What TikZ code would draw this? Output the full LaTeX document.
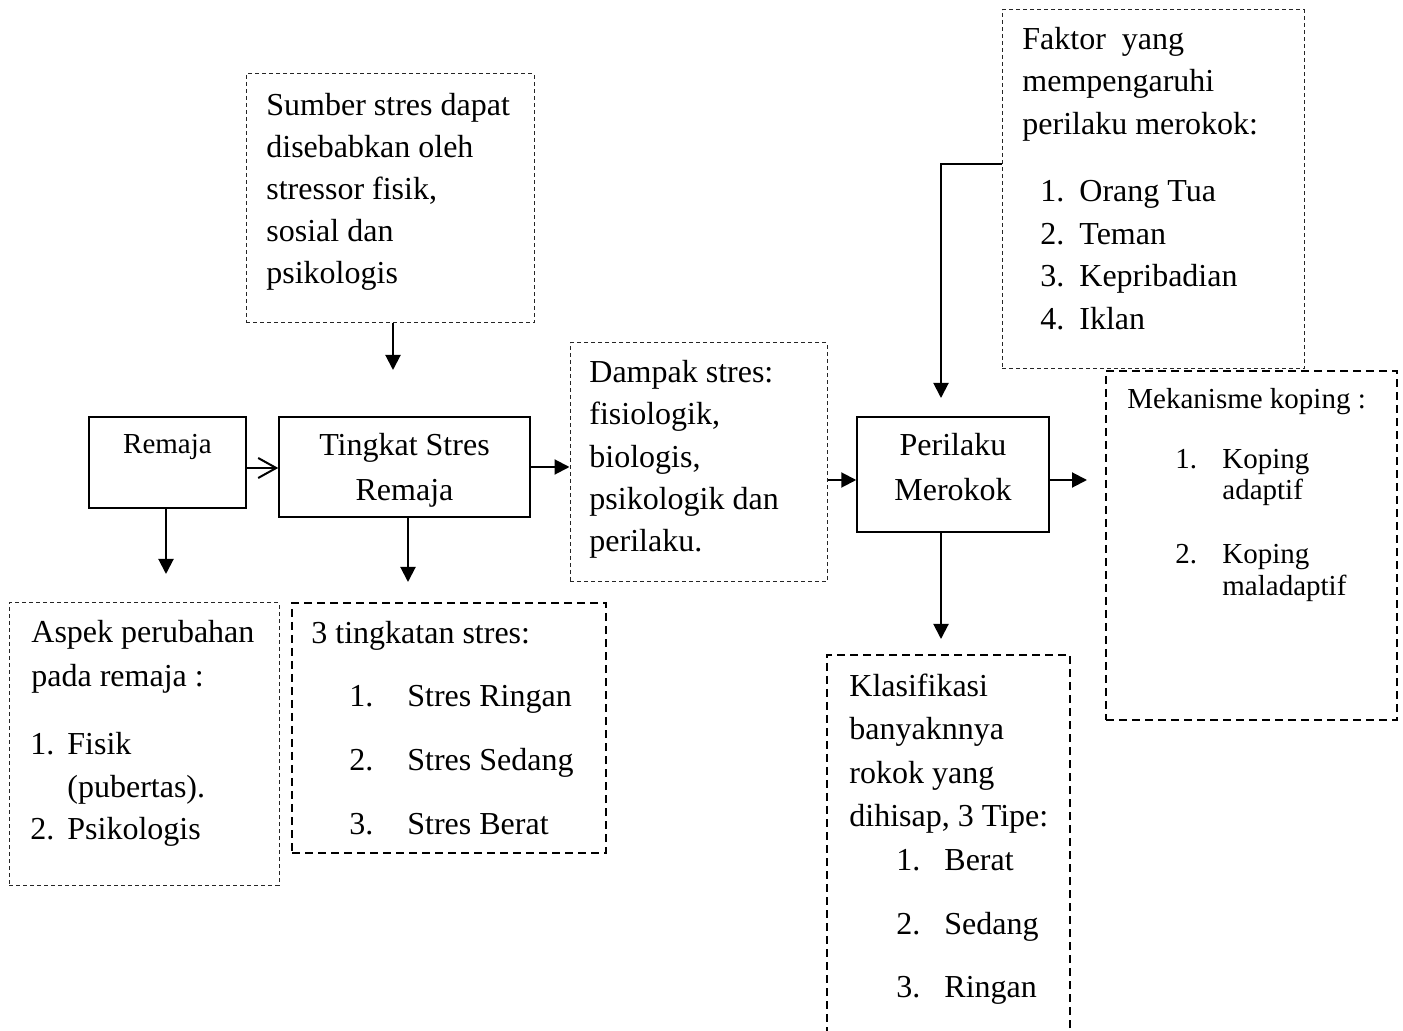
\documentclass[tikz,border=0pt]{standalone}
\usepackage{fontspec}
\setmainfont{Liberation Serif}
\usetikzlibrary{arrows.meta,fit}
\begin{document}
\begin{tikzpicture}[x=0.5pt,y=-0.5pt,
  solidbox/.style={draw, line width=0.75pt, inner sep=0pt},
  finebox/.style={draw, draw=black!85, line width=0.5pt, dash pattern=on 2pt off 1.5pt, inner sep=0pt},
  coarsebox/.style={draw, line width=1pt, dash pattern=on 4pt off 2.5pt, inner sep=0pt},
  arr/.style={line width=1pt, -{Triangle[length=7.5pt,width=7.5pt]}},
  openarr/.style={line width=1pt, -{Straight Barb[length=9pt,width=10pt]}},
  txt/.style={anchor=base west, inner sep=0pt, font=\fontsize{16}{19}\selectfont},
  ctxt/.style={anchor=base, inner sep=0pt, font=\fontsize{16}{19}\selectfont},
  stxt/.style={anchor=base west, inner sep=0pt, font=\fontsize{14.5}{17}\selectfont},
  sctxt/.style={anchor=base, inner sep=0pt, font=\fontsize{14.5}{17}\selectfont},
]
\useasboundingbox (0,0) rectangle (1403,1031);
\clip (0,0) rectangle (1403,1031);

% boxes
\node[solidbox, fit={(89,417)(246,508)}] (remaja) {};
\node[solidbox, fit={(279,417)(530,517)}] (tingkat) {};
\node[solidbox, fit={(857,417)(1049,532)}] (perilaku) {};
\node[finebox, fit={(246,74)(534,323)}] (sumber) {};
\node[finebox, fit={(570,343)(827,582)}] (dampak) {};
\node[finebox, fit={(1002,10)(1304,369)}] (faktor) {};
\node[coarsebox, fit={(1106,371)(1397,720)}] (koping) {};
\node[finebox, fit={(9,603)(279,885)}] (aspek) {};
\node[coarsebox, fit={(292,603)(606,853)}] (tingkatan) {};
\node[coarsebox, fit={(827,655)(1070,1045)}] (klasifikasi) {};

% texts
\node[sctxt] (tRemaja) at (167.5,454) {Remaja};
\node[ctxt] (tT1) at (404.5,456) {Tingkat Stres};
\node[ctxt] (tT2) at (404.5,501) {Remaja};
\node[ctxt] (tP1) at (953,456) {Perilaku};
\node[ctxt] (tP2) at (953,501) {Merokok};

\node[txt] (s1) at (266,116) {Sumber stres dapat};
\node[txt] (s2) at (266,158) {disebabkan oleh};
\node[txt] (s3) at (266,200) {stressor fisik,};
\node[txt] (s4) at (266,242) {sosial dan};
\node[txt] (s5) at (266,284) {psikologis};

\node[txt] (d1) at (589,383) {Dampak stres:};
\node[txt] (d2) at (589,425) {fisiologik,};
\node[txt] (d3) at (589,468) {biologis,};
\node[txt] (d4) at (589,510) {psikologik dan};
\node[txt] (d5) at (589,552) {perilaku.};

\node[txt] (f1) at (1022,50) {Faktor~ yang};
\node[txt] (f2) at (1022,92) {mempengaruhi};
\node[txt] (f3) at (1022,135) {perilaku merokok:};
\node[txt] (fn1) at (1040,202) {1.};
\node[txt] (fi1) at (1079,202) {Orang Tua};
\node[txt] (fn2) at (1040,245) {2.};
\node[txt] (fi2) at (1079,245) {Teman};
\node[txt] (fn3) at (1040,287) {3.};
\node[txt] (fi3) at (1079,287) {Kepribadian};
\node[txt] (fn4) at (1040,330) {4.};
\node[txt] (fi4) at (1079,330) {Iklan};

\node[stxt] (k1) at (1127,409) {Mekanisme koping :};
\node[stxt] (kn1) at (1175,469) {1.};
\node[stxt] (ki1) at (1222,469) {Koping};
\node[stxt] (ki1b) at (1222,500) {adaptif};
\node[stxt] (kn2) at (1175,564) {2.};
\node[stxt] (ki2) at (1222,564) {Koping};
\node[stxt] (ki2b) at (1222,596) {maladaptif};

\node[txt] (a1) at (31,643) {Aspek perubahan};
\node[txt] (a2) at (31,686) {pada remaja :};
\node[txt] (an1) at (30,754) {1.};
\node[txt] (ai1) at (67,754) {Fisik};
\node[txt] (ai1b) at (67,797) {(pubertas).};
\node[txt] (an2) at (30,839) {2.};
\node[txt] (ai2) at (67,839) {Psikologis};

\node[txt] (g1) at (311,644) {3 tingkatan stres:};
\node[txt] (gn1) at (349,706) {1.};
\node[txt] (gi1) at (407,706) {Stres Ringan};
\node[txt] (gn2) at (349,770) {2.};
\node[txt] (gi2) at (407,770) {Stres Sedang};
\node[txt] (gn3) at (349,834) {3.};
\node[txt] (gi3) at (407,834) {Stres Berat};

\node[txt] (c1) at (849,697) {Klasifikasi};
\node[txt] (c2) at (849,740) {banyaknnya};
\node[txt] (c3) at (849,783) {rokok yang};
\node[txt] (c4) at (849,826) {dihisap, 3 Tipe:};
\node[txt] (cn1) at (896,870) {1.};
\node[txt] (ci1) at (944,870) {Berat};
\node[txt] (cn2) at (896,934) {2.};
\node[txt] (ci2) at (944,934) {Sedang};
\node[txt] (cn3) at (896,997) {3.};
\node[txt] (ci3) at (944,997) {Ringan};

% connector coordinates
\coordinate (y468) at (0,468);
\coordinate (y467) at (0,467);
\coordinate (y480) at (0,480);
\coordinate (y164) at (0,164);
\coordinate (tA) at (166,574);
\coordinate (tS) at (393,370);
\coordinate (tT) at (408,582);
\coordinate (tP) at (941,639);
\coordinate (tF) at (941,398);
\coordinate (tM) at (1087,480);

% connectors
\draw[openarr] (remaja.east |- y468) -- (tingkat.west |- y468);
\draw[arr] (tingkat.east |- y467) -- (dampak.west |- y467);
\draw[arr] (dampak.east |- y480) -- (perilaku.west |- y480);
\draw[arr] (perilaku.east |- tM) -- (tM);
\draw[arr] (remaja.south -| tA) -- (tA);
\draw[arr] (sumber.south -| tS) -- (tS);
\draw[arr] (tingkat.south -| tT) -- (tT);
\draw[arr] (perilaku.south -| tP) -- (tP);
\draw[arr] (faktor.west |- y164) -| (tF);
\end{tikzpicture}
\end{document}
